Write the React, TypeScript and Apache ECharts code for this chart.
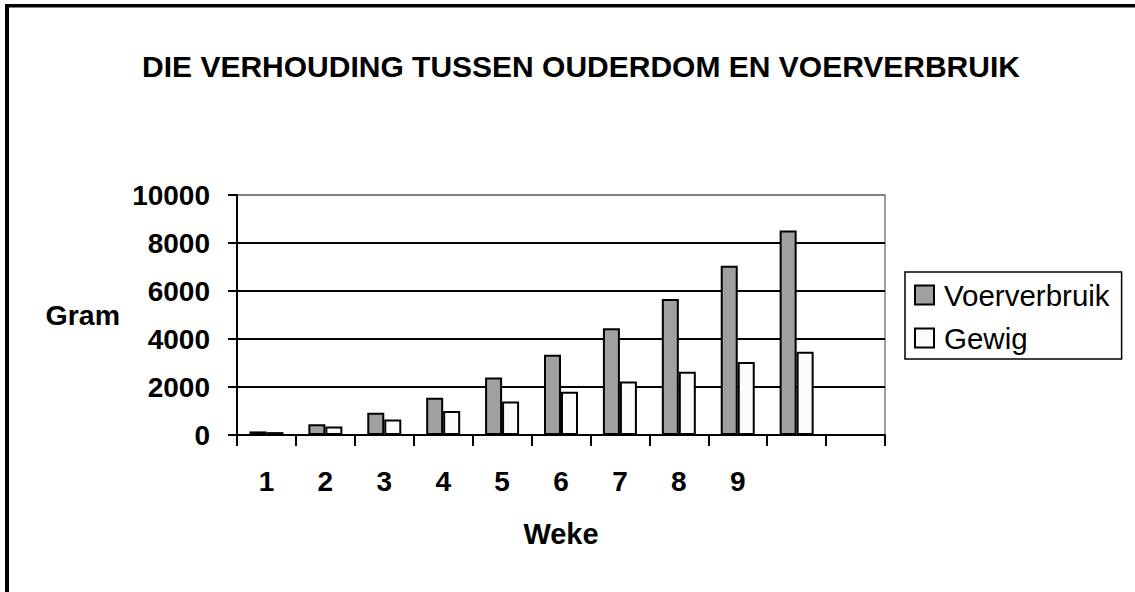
import React, { useEffect, useRef } from "react";
import * as echarts from "echarts";

const weekLabels = ["1", "2", "3", "4", "5", "6", "7", "8", "9", "", ""];
const voerverbruik = [150, 450, 930, 1550, 2400, 3340, 4450, 5670, 7050, 8520, null];
const gewig = [120, 350, 650, 1000, 1400, 1800, 2230, 2640, 3040, 3470, null];
const yTicks = { min: 0, max: 10000, interval: 2000 };

const FONT = "'Liberation Sans', Arial, Helvetica, sans-serif";

export default function App() {
  const ref = useRef<HTMLDivElement>(null);
  useEffect(() => {
    document.body.style.margin = "0";
    const chart = echarts.init(ref.current!, null, { renderer: "svg" });
    chart.setOption({
      animation: false,
      backgroundColor: "#ffffff",
      textStyle: { fontFamily: FONT },
      title: {
        text: "DIE VERHOUDING TUSSEN OUDERDOM EN VOERVERBRUIK",
        left: 576,
        textAlign: "center",
        top: 46,
        textStyle: { fontFamily: FONT, fontSize: 30, fontWeight: "bold", color: "#000" },
      },
      graphic: [
        { type: "rect", shape: { x: 5, y: 4, width: 1135, height: 3.5 }, style: { fill: "#000" } },
        { type: "rect", shape: { x: 5, y: 4, width: 4, height: 600 }, style: { fill: "#000" } },
      ],
      legend: {
        orient: "vertical",
        left: 905,
        top: 272,
        padding: [8, 12, 6, 9],
        itemWidth: 19,
        itemHeight: 19,
        itemGap: 13,
        borderColor: "#000",
        borderWidth: 1.5,
        icon: "rect",
        textStyle: { fontFamily: FONT, fontSize: 29.5, color: "#000", lineHeight: 30, padding: [0, 0, 0, 5] },
        data: ["Voerverbruik", "Gewig"],
      },
      grid: {
        left: 237,
        top: 195,
        width: 648,
        height: 240,
        show: true,
        borderColor: "#808080",
        borderWidth: 1.5,
        backgroundColor: "transparent",
      },
      xAxis: {
        type: "category",
        data: weekLabels,
        boundaryGap: true,
        name: "Weke",
        nameLocation: "middle",
        nameGap: 84,
        nameTextStyle: { fontFamily: FONT, fontSize: 29, fontWeight: "bold", color: "#000" },
        axisLine: { lineStyle: { color: "#000", width: 2 } },
        axisTick: { show: true, interval: 0, length: 11, lineStyle: { color: "#000", width: 2 } },
        axisLabel: { interval: 0, margin: 32, fontFamily: FONT, fontSize: 28, fontWeight: "bold", color: "#000" },
        splitLine: { show: false },
      },
      yAxis: {
        type: "value",
        min: yTicks.min,
        max: yTicks.max,
        interval: yTicks.interval,
        name: "Gram",
        nameLocation: "middle",
        nameRotate: 0,
        nameGap: 117,
        nameTextStyle: { fontFamily: FONT, fontSize: 28.5, fontWeight: "bold", color: "#000" },
        axisLine: { show: true, lineStyle: { color: "#000", width: 2 } },
        axisTick: { show: true, length: 9, lineStyle: { color: "#000", width: 2 } },
        axisLabel: {
          margin: 27,
          fontFamily: FONT,
          fontSize: 28,
          fontWeight: "bold",
          color: "#000",
          formatter: (v: number) => String(v),
        },
        splitLine: {
          show: true,
          lineStyle: { color: ["#000", "#000", "#000", "#000", "#000", "#808080"], width: 2 },
        },
      },
      series: [
        {
          name: "Voerverbruik",
          type: "bar",
          data: voerverbruik,
          barWidth: 17,
          barGap: "0%",
          itemStyle: { color: "#a0a0a0", borderColor: "#000", borderWidth: 2 },
        },
        {
          name: "Gewig",
          type: "bar",
          data: gewig,
          barWidth: 17,
          barGap: "0%",
          itemStyle: { color: "#fcfcfc", borderColor: "#000", borderWidth: 2 },
        },
      ],
    });
    return () => chart.dispose();
  }, []);
  return <div ref={ref} style={{ position: "absolute", left: 0, top: 0, width: 1135, height: 592 }} />;
}
